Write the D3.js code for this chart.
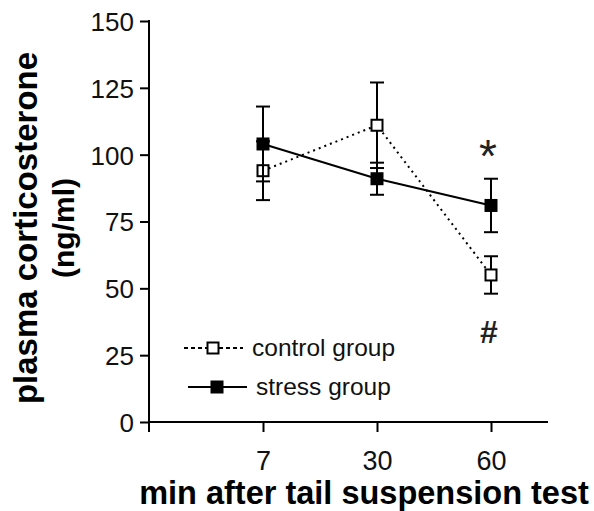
<!DOCTYPE html>
<html>
<head>
<meta charset="utf-8">
<script src="https://cdn.jsdelivr.net/npm/d3@7"></script>
<style>
  html, body { margin: 0; padding: 0; background: #fff; }
  svg { display: block; }
</style>
</head>
<body>
<svg id="chart" width="594" height="511"></svg>
<script>
// Plasma corticosterone after the tail suspension test
const timeLabels = ["7", "30", "60"];
const controlMean = [94, 111, 55];
const controlSem  = [11, 16, 7];
const stressMean  = [104, 91, 81];
const stressSem   = [14, 6, 10];
const yTicks = [0, 25, 50, 75, 100, 125, 150];
const seriesNames = ["control group", "stress group"];

const svg = d3.select("#chart");
const x = d3.scaleLinear().domain([0, 3.5]).range([149, 548]);
const y = d3.scaleLinear().domain([0, 150]).range([422, 21]);

const tickFont = "'Liberation Sans', Arial, sans-serif";

// Y axis
const yAxis = svg.append("g").attr("transform", `translate(${x(0)},0)`)
  .call(d3.axisLeft(y).tickValues(yTicks).tickSize(9).tickSizeOuter(0).tickPadding(6));
yAxis.select(".domain").remove();
yAxis.selectAll(".tick line").attr("stroke", "#000").attr("stroke-width", 2);
yAxis.selectAll(".tick text").attr("font-family", tickFont).attr("font-size", 26)
  .attr("fill", "#111").attr("dy", "0.36em");
svg.append("line").attr("x1", x(0)).attr("x2", x(0))
  .attr("y1", y(150) - 1).attr("y2", y(0) + 10)
  .attr("stroke", "#000").attr("stroke-width", 2);

// X axis
const xAxis = svg.append("g").attr("transform", `translate(0,${y(0)})`)
  .call(d3.axisBottom(x).tickValues([1, 2, 3]).tickFormat(d => timeLabels[d - 1])
    .tickSize(10).tickSizeOuter(0).tickPadding(19));
xAxis.select(".domain").remove();
xAxis.selectAll(".tick line").attr("stroke", "#000").attr("stroke-width", 2);
xAxis.selectAll(".tick text").attr("font-family", tickFont).attr("font-size", 27).attr("fill", "#111");
svg.append("line").attr("x1", x(0)).attr("x2", x(3.5))
  .attr("y1", y(0)).attr("y2", y(0))
  .attr("stroke", "#000").attr("stroke-width", 2);

// Axis titles
svg.append("text")
  .attr("x", 364).attr("y", 504)
  .attr("text-anchor", "middle")
  .attr("font-family", tickFont).attr("font-weight", "bold").attr("font-size", 32.5)
  .text("min after tail suspension test");
const yTitle = svg.append("g").attr("transform", "translate(0,228) rotate(-90)");
yTitle.append("text").attr("x", 0).attr("y", 37).attr("text-anchor", "middle")
  .attr("font-family", tickFont).attr("font-weight", "bold").attr("font-size", 33)
  .text("plasma corticosterone");
yTitle.append("text").attr("x", 0).attr("y", 74).attr("text-anchor", "middle")
  .attr("font-family", tickFont).attr("font-weight", "bold").attr("font-size", 30)
  .text("(ng/ml)");

const idx = [0, 1, 2];
const line = d3.line().x(i => x(i + 1));

// Series lines
svg.append("path").attr("d", line.y(i => y(controlMean[i]))(idx))
  .attr("fill", "none").attr("stroke", "#000").attr("stroke-width", 2)
  .attr("stroke-dasharray", "2,4");
svg.append("path").attr("d", line.y(i => y(stressMean[i]))(idx))
  .attr("fill", "none").attr("stroke", "#000").attr("stroke-width", 2);

function drawSeries(mean, sem, fill) {
  const g = svg.append("g");
  idx.forEach(i => {
    const cx = x(i + 1);
    const hi = y(mean[i] + sem[i]), lo = y(mean[i] - sem[i]);
    g.append("line").attr("x1", cx).attr("x2", cx).attr("y1", hi).attr("y2", lo)
      .attr("stroke", "#000").attr("stroke-width", 2);
    [hi, lo].forEach(v => g.append("line")
      .attr("x1", cx - 7).attr("x2", cx + 7).attr("y1", v).attr("y2", v)
      .attr("stroke", "#000").attr("stroke-width", 2));
  });
  idx.forEach(i => {
    g.append("rect").attr("x", x(i + 1) - 5.5).attr("y", y(mean[i]) - 5.5)
      .attr("width", 11).attr("height", 11)
      .attr("fill", fill).attr("stroke", "#000").attr("stroke-width", 2);
  });
}
drawSeries(controlMean, controlSem, "#fff");
drawSeries(stressMean, stressSem, "#000");

// Significance marks at 60 min
svg.append("text").attr("x", x(3) - 3).attr("y", 172).attr("text-anchor", "middle")
  .attr("font-family", tickFont).attr("font-size", 46)
  .attr("fill", "#222").text("*");
svg.append("text").attr("x", x(3) - 2).attr("y", 343).attr("text-anchor", "middle")
  .attr("font-family", tickFont).attr("font-weight", "bold").attr("font-size", 32)
  .attr("fill", "#222").text("#");

// Legend
const legend = svg.append("g");
const legendRows = [
  { name: seriesNames[0], y: 348, x1: 184, x2: 243, sq: 213, fill: "#fff", dash: "4,3", tx: 252 },
  { name: seriesNames[1], y: 387, x1: 188, x2: 247, sq: 217, fill: "#000", dash: null, tx: 256 }
];
legendRows.forEach(r => {
  legend.append("line").attr("x1", r.x1).attr("x2", r.x2).attr("y1", r.y).attr("y2", r.y)
    .attr("stroke", "#000").attr("stroke-width", 2)
    .attr("stroke-dasharray", r.dash);
  legend.append("rect").attr("x", r.sq - 5.5).attr("y", r.y - 5.5)
    .attr("width", 11).attr("height", 11)
    .attr("fill", r.fill).attr("stroke", "#000").attr("stroke-width", 2);
  legend.append("text").attr("x", r.tx).attr("y", r.y + 8)
    .attr("font-family", tickFont).attr("font-size", 24.5).attr("fill", "#111")
    .text(r.name);
});
</script>
</body>
</html>
